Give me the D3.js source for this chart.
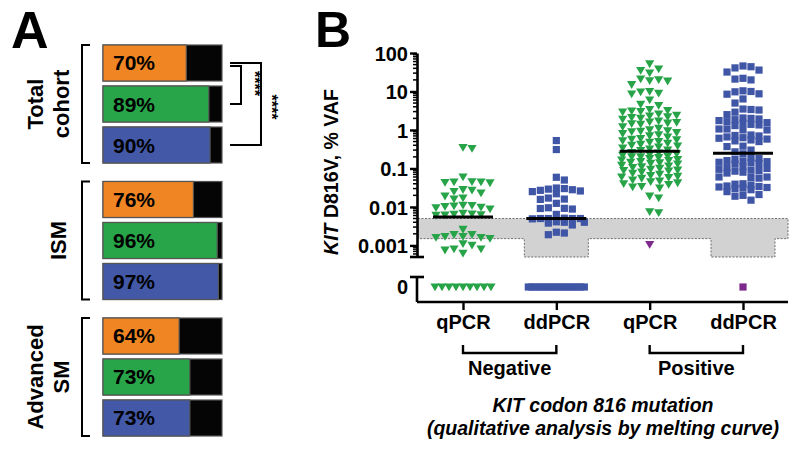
<!DOCTYPE html>
<html><head><meta charset="utf-8">
<script src="https://cdn.jsdelivr.net/npm/d3@7"></script>
<style>
body{margin:0;background:#fff}
svg{display:block}
text{font-family:"Liberation Sans",Arial,Helvetica,sans-serif;font-weight:bold;fill:#000}
</style>
</head><body>
<svg id="chart" width="800" height="452"></svg>
<script>
// ---------- Panel A data ----------
const groupsA = ["Total cohort", "ISM", "Advanced SM"];
const groupLabelLines = [["Total", "cohort"], ["ISM"], ["Advanced", "SM"]];
const methodsA = ["Melting curve", "qPCR", "ddPCR"];
const pctTotal = [70, 89, 90];
const pctISM = [76, 96, 97];
const pctAdvanced = [64, 73, 73];
const colorsA = ["#ef8523", "#28a549", "#4359a8"];
const sigLabel = "****";

// ---------- Panel B data ----------
const categoriesB = ["NegQ", "NegD", "PosQ", "PosD"];
const xTickLabels = ["qPCR", "ddPCR", "qPCR", "ddPCR"];
const groupLabelsB = ["Negative", "Positive"];
const yTickValues = [0.001, 0.01, 0.1, 1, 10, 100];
const yTickLabels = ["0.001", "0.01", "0.1", "1", "10", "100"];
const lodQPCR = 0.0015, lodDDPCR = 0.0005, lodTop = 0.005;

const negQPCR = [0.35, 0.33, 0.06, 0.044, 0.042, 0.043, 0.044, 0.045, 0.028, 0.025, 0.027, 0.023,
  0.017, 0.016, 0.019, 0.0105, 0.0098, 0.0102, 0.0095, 0.0108, 0.011, 0.0088, 0.0062, 0.0064,
  0.006, 0.0061, 0.0065, 0.0068, 0.0026, 0.0019, 0.0017, 0.0016, 0.0015, 0.0016, 0.0017, 0.0019,
  0.0011, 0.0008, 0.00075, 0.00062, 0.0008, 0.001,
  0, 0, 0, 0, 0, 0, 0, 0, 0];
const negDDPCR = [0.53, 0.31, 0.059, 0.05, 0.03, 0.028, 0.025, 0.031, 0.027, 0.026, 0.022, 0.029,
  0.0157, 0.016, 0.017, 0.0124, 0.0091, 0.0095, 0.0088, 0.0092, 0.0064, 0.005, 0.005, 0.0049,
  0.0051, 0.005, 0.005, 0.004, 0.0038, 0.0041, 0.004, 0.0034, 0.0021, 0.0019, 0.0022,
  0, 0, 0, 0, 0, 0, 0, 0, 0, 0, 0, 0, 0, 0, 0, 0];
const posQPCR = [52, 38, 35, 30, 21, 20, 19, 18.5, 15, 10, 9.6, 9.0, 8.6, 6.0, 4.6, 4.3, 3.4, 3.2,
  3.0, 2.9, 3.1, 2.6, 2.4, 2.3, 2.2, 2.1, 2.0, 1.9, 1.7, 1.6, 1.55, 1.5, 1.45, 1.4, 1.2, 1.1, 1.0,
  0.95, 0.92, 0.9, 0.85, 0.8, 0.75, 0.7, 0.65, 0.6, 0.57, 0.55, 0.52, 0.5, 0.48, 0.45, 0.42, 0.4,
  0.38, 0.36, 0.34, 0.32, 0.3, 0.29, 0.26, 0.25, 0.24, 0.23, 0.22, 0.21, 0.2, 0.2, 0.19, 0.18,
  0.17, 0.165, 0.16, 0.15, 0.145, 0.14, 0.135, 0.13, 0.12, 0.115, 0.11, 0.105, 0.1, 0.095, 0.09,
  0.088, 0.085, 0.08, 0.075, 0.07, 0.065, 0.062, 0.06, 0.058, 0.055, 0.05, 0.047, 0.045, 0.042,
  0.04, 0.038, 0.034, 0.033, 0.031, 0.019, 0.017, 0.0075, 0.007];
const posDDPCR = [46, 44, 41, 36, 32, 22, 21, 20, 10.4, 10, 9.8, 8.7, 8.5, 6.4, 5.0, 3.5, 3.4, 3.3,
  2.9, 2.5, 2.05, 2.0, 1.93, 1.85, 1.75, 1.64, 1.55, 1.49, 1.4, 1.35, 1.3, 1.06, 1.06, 1.0, 1.0,
  0.74, 0.72, 0.70, 0.66, 0.63, 0.61, 0.58, 0.55, 0.52, 0.5, 0.38, 0.37, 0.3, 0.27, 0.24,
  0.19, 0.18, 0.17, 0.16, 0.155, 0.15, 0.145, 0.14, 0.135, 0.13, 0.11, 0.105, 0.1, 0.095, 0.09,
  0.088, 0.085, 0.08, 0.076, 0.06, 0.06, 0.058, 0.056, 0.04, 0.039, 0.037, 0.035, 0.034, 0.033,
  0.032, 0.031, 0.03, 0.028, 0.025, 0.021, 0.02, 0.019, 0.015];
const outlierPosQPCR = [0.00105];
const outlierPosDDPCR = [0];
const mediansB = [0.0055, 0.005, 0.28, 0.25];
const pointColors = {tri: "#27a348", sq: "#3f55a6", odd: "#7d2a8c"};

// ---------- Drawing ----------
const svg = d3.select("#chart");

// ===== Panel A =====
const A = svg.append("g");
A.append("text").attr("x", 11).attr("y", 48).attr("font-size", 52).text("A");

const pctByGroup = [pctTotal, pctISM, pctAdvanced];
const gScale = d3.scaleBand().domain(groupsA).range([45, 436]).paddingInner(0.1355);
const mScale = d3.scaleBand().domain(methodsA).range([0, gScale.bandwidth()]).paddingInner(0.122);
const xA = d3.scaleLinear().domain([0, 100]).range([103, 222]);

groupsA.forEach((g, gi) => {
  const gy = gScale(g);
  const grp = A.append("g").attr("transform", `translate(0,${gy})`);
  const data = methodsA.map((m, i) => ({m, v: pctByGroup[gi][i], c: colorsA[i]}));
  grp.selectAll("rect.bg").data(data).join("rect").attr("class", "bg")
    .attr("x", xA(0)).attr("y", d => mScale(d.m)).attr("width", xA(100) - xA(0))
    .attr("height", mScale.bandwidth()).attr("fill", "#050505").attr("stroke", "#555").attr("stroke-width", 1.2);
  grp.selectAll("rect.fg").data(data).join("rect").attr("class", "fg")
    .attr("x", xA(0)).attr("y", d => mScale(d.m)).attr("width", d => xA(d.v) - xA(0))
    .attr("height", mScale.bandwidth()).attr("fill", d => d.c).attr("stroke", "#555").attr("stroke-width", 1.2);
  grp.selectAll("text.pct").data(data).join("text").attr("class", "pct")
    .attr("x", xA(0) + 10).attr("y", d => mScale(d.m) + mScale.bandwidth() / 2 + 7.5)
    .attr("font-size", 21).text(d => d.v + "%");
  const h = gScale.bandwidth();
  grp.append("path").attr("d", `M90,0 H82 V${h} H90`).attr("fill", "none").attr("stroke", "#000").attr("stroke-width", 2);
  const lines = groupLabelLines[gi];
  const cx = lines.length === 2 ? 48 : 58;
  const lab = grp.append("text").attr("transform", `translate(${cx},${h / 2}) rotate(-90)`)
    .attr("text-anchor", "middle").attr("font-size", 22);
  lines.forEach((ln, li) => {
    lab.append("tspan").attr("x", 0).attr("y", (li - (lines.length - 1) / 2) * 26 + 8).text(ln);
  });
});

// significance brackets (Total cohort)
{
  const g0 = gScale(groupsA[0]);
  const yb = m => g0 + mScale(m) + mScale.bandwidth() / 2;
  const y1 = yb(methodsA[0]), y2 = yb(methodsA[1]), y3 = yb(methodsA[2]);
  A.append("path").attr("d", `M230,${y1} H261 V${y3} H230`).attr("fill", "none").attr("stroke", "#000").attr("stroke-width", 2);
  A.append("path").attr("d", `M230,${y1 + 3} H241 V${y2} H230`).attr("fill", "none").attr("stroke", "#000").attr("stroke-width", 2);
  A.append("text").attr("transform", `translate(${249},${(y1 + y2) / 2}) rotate(90)`)
    .attr("text-anchor", "middle").attr("font-size", 16).text(sigLabel);
  A.append("text").attr("transform", `translate(${266},${(y1 + y3) / 2 + 3}) rotate(90)`)
    .attr("text-anchor", "middle").attr("font-size", 16).text(sigLabel);
}

// ===== Panel B =====
const B = svg.append("g");
B.append("text").attr("x", 315).attr("y", 47).attr("font-size", 50).text("B");

const axisX = 417, axisRight = 788, xAxisY = 302, zeroY = 287, zeroTop = 277;
const y = d3.scaleLog().domain([0.0005, 100]).range([257, 53]);
const x = d3.scalePoint().domain(categoriesB).range([463, 743]);
const ddHalf = 32;

// LOD band
{
  const yT = y(lodTop), yQ = y(lodQPCR), yD = y(lodDDPCR);
  const d1 = x(categoriesB[1]), d3x = x(categoriesB[3]);
  const pts = [[axisX + 1, yT], [axisRight, yT], [axisRight, yQ], [d3x + ddHalf, yQ], [d3x + ddHalf, yD],
    [d3x - ddHalf, yD], [d3x - ddHalf, yQ], [d1 + ddHalf, yQ], [d1 + ddHalf, yD], [d1 - ddHalf, yD],
    [d1 - ddHalf, yQ], [axisX + 1, yQ]];
  B.append("path").attr("d", "M" + pts.map(p => p.join(",")).join("L") + "Z")
    .attr("fill", "#d2d2d2").attr("stroke", "#6f6f6f").attr("stroke-width", 1).attr("stroke-dasharray", "2,1.5");
}

// swarm layout
function swarm(vals, cx, w, h, maxHalf) {
  const pts = vals.map(v => ({v, y: v === 0 ? zeroY : y(v)}));
  const zeros = pts.filter(p => p.v === 0), nz = pts.filter(p => p.v > 0);
  const n0 = zeros.length;
  const span = Math.min((n0 - 1) * w, 2 * maxHalf);
  zeros.forEach((p, i) => { p.x = cx + (n0 === 1 ? 0 : -span / 2 + i * span / (n0 - 1)); });
  nz.sort((a, b) => a.y - b.y);
  const placed = [];
  const offs = [0];
  for (let k = 1; k <= maxHalf; k++) offs.push(-k, k);
  nz.forEach((p, idx) => {
    let best = 0, bestCost = Infinity;
    for (const o0 of offs) {
      const o = idx % 2 ? -o0 : o0;
      let cost = 0;
      for (const q of placed) {
        const dx = Math.abs(q.x - (cx + o)), dy = Math.abs(q.y - p.y);
        if (dx < w && dy < h) cost += (w - dx) * (h - dy);
      }
      if (cost === 0) { best = o; bestCost = 0; break; }
      const c = cost + Math.abs(o) * 0.5;
      if (c < bestCost) { bestCost = c; best = o; }
    }
    p.x = cx + best;
    placed.push(p);
  });
  return pts;
}

function triPath(p) {
  return `M${p.x - 4.6},${p.y - 3.6}L${p.x + 4.6},${p.y - 3.6}L${p.x},${p.y + 4.2}Z`;
}

const seriesB = [
  {cat: categoriesB[0], vals: negQPCR, shape: "tri", color: pointColors.tri},
  {cat: categoriesB[1], vals: negDDPCR, shape: "sq", color: pointColors.sq},
  {cat: categoriesB[2], vals: posQPCR, shape: "tri", color: pointColors.tri},
  {cat: categoriesB[3], vals: posDDPCR, shape: "sq", color: pointColors.sq},
  {cat: categoriesB[2], vals: outlierPosQPCR, shape: "tri", color: pointColors.odd},
  {cat: categoriesB[3], vals: outlierPosDDPCR, shape: "sq", color: pointColors.odd}
];

seriesB.forEach(s => {
  const pts = swarm(s.vals, x(s.cat), s.shape === "tri" ? 9 : 8, 7, 28);
  const g = B.append("g");
  if (s.shape === "tri") {
    g.selectAll("path").data(pts).join("path").attr("d", triPath).attr("fill", s.color);
  } else {
    g.selectAll("rect").data(pts).join("rect")
      .attr("x", d => d.x - 3.6).attr("y", d => d.y - 3.6).attr("width", 7.2).attr("height", 7.2)
      .attr("fill", s.color);
  }
});

// median lines
B.selectAll("line.med").data(categoriesB.map((c, i) => ({c, v: mediansB[i]}))).join("line")
  .attr("class", "med").attr("x1", d => x(d.c) - 30).attr("x2", d => x(d.c) + 30)
  .attr("y1", d => y(d.v)).attr("y2", d => y(d.v)).attr("stroke", "#000").attr("stroke-width", 3);

// Y axis (log segment)
const yAxisG = B.append("g").attr("transform", `translate(${axisX},0)`)
  .call(d3.axisLeft(y).tickValues(yTickValues).tickFormat((d, i) => yTickLabels[i]).tickSize(7).tickSizeOuter(0).tickPadding(2));
yAxisG.select(".domain").attr("stroke-width", 2.6);
yAxisG.selectAll(".tick line").attr("stroke-width", 2.4);
yAxisG.selectAll(".tick text").attr("font-size", 20).attr("font-family", "Liberation Sans, Arial, sans-serif").attr("font-weight", "bold").attr("dy", "0.36em");
const minor = [];
[0.0001, 0.001, 0.01, 0.1, 1, 10].forEach(dec => { for (let m = 2; m <= 9; m++) { const v = dec * m; if (v >= 0.0005 && v < 100) minor.push(v); } });
B.selectAll("line.minor").data(minor).join("line").attr("class", "minor")
  .attr("x1", axisX - 4).attr("x2", axisX).attr("y1", d => y(d)).attr("y2", d => y(d))
  .attr("stroke", "#000").attr("stroke-width", 1.5);
B.append("line").attr("x1", axisX - 7).attr("x2", axisX + 7).attr("y1", y.range()[0]).attr("y2", y.range()[0])
  .attr("stroke", "#000").attr("stroke-width", 2.6);
B.append("line").attr("x1", axisX).attr("x2", axisX).attr("y1", zeroTop).attr("y2", xAxisY)
  .attr("stroke", "#000").attr("stroke-width", 2.6);
B.append("line").attr("x1", axisX - 7).attr("x2", axisX + 7).attr("y1", zeroTop).attr("y2", zeroTop)
  .attr("stroke", "#000").attr("stroke-width", 2.6);
B.append("text").attr("x", axisX - 9).attr("y", zeroY + 7).attr("text-anchor", "end").attr("font-size", 20).text("0");

// X axis
const xAxisG = B.append("g").attr("transform", `translate(0,${xAxisY})`)
  .call(d3.axisBottom(x).tickSize(8).tickSizeOuter(0).tickFormat((d, i) => xTickLabels[i]).tickPadding(5));
xAxisG.select(".domain").attr("d", `M${axisX},0H${axisRight}`).attr("stroke-width", 2.6);
xAxisG.selectAll(".tick line").attr("stroke-width", 2.4);
xAxisG.selectAll(".tick text").attr("font-size", 20).attr("font-family", "Liberation Sans, Arial, sans-serif").attr("font-weight", "bold");

// group brackets
[[0, 1], [2, 3]].forEach((pair, i) => {
  const xa = x(categoriesB[pair[0]]), xb = x(categoriesB[pair[1]]);
  B.append("path").attr("d", `M${xa},345V353H${xb}V345`).attr("fill", "none").attr("stroke", "#000").attr("stroke-width", 2.4);
  B.append("text").attr("x", (xa + xb) / 2).attr("y", 375).attr("text-anchor", "middle").attr("font-size", 20).text(groupLabelsB[i]);
});

// X title
B.append("text").attr("x", 603).attr("y", 412).attr("text-anchor", "middle").attr("font-size", 19.5)
  .attr("font-style", "italic").text("KIT codon 816 mutation");
B.append("text").attr("x", 603).attr("y", 435).attr("text-anchor", "middle").attr("font-size", 19.5)
  .attr("font-style", "italic").text("(qualitative analysis by melting curve)");

// Y title
const yt = B.append("text").attr("transform", "translate(338,172) rotate(-90)").attr("text-anchor", "middle").attr("font-size", 19.5);
yt.append("tspan").attr("font-style", "italic").text("KIT");
yt.append("tspan").text(" D816V, % VAF");
</script>
</body></html>
